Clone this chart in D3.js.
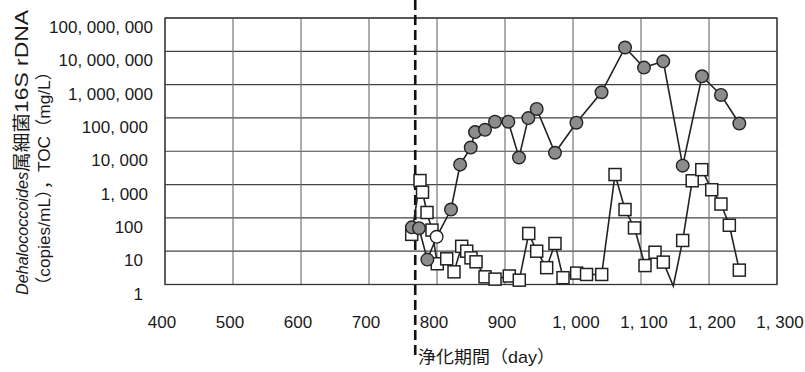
<!DOCTYPE html>
<html><head><meta charset="utf-8">
<script src="https://cdn.jsdelivr.net/npm/d3@7/dist/d3.min.js"></script>
<style>
html,body{margin:0;padding:0;background:#fff;}
svg{display:block;}
text{font-family:"Liberation Sans","Noto Sans CJK JP",sans-serif;fill:#1a1a1a;}
</style></head>
<body>
<svg id="chart" width="805" height="372"></svg>
<script>
// ---- data ----
const xTicks = [400, 500, 600, 700, 800, 900, 1000, 1100, 1200, 1300];
const yTicks = [1, 10, 100, 1000, 10000, 100000, 1000000, 10000000, 100000000];
const startDay = 768;

// Dehalococcoides 16S rDNA (copies/mL) - grey circles
const dhcDay = [763, 773.5, 785.8, 799.5, 820.6, 834, 849.6, 855.9, 870.6, 885.3, 904.9, 920.6, 934.3, 946.6, 973.5, 1005, 1042, 1076.5, 1104.4, 1132.8, 1161.3, 1189.7, 1217.6, 1244.6];
const dhcVal = [52, 49, 5.6, 27, 178, 3960, 12900, 37600, 44000, 77000, 77000, 6500, 99000, 186000, 9000, 72000, 590000, 13000000, 3240000, 5000000, 3700, 1780000, 490000, 68000];
const dhcOpen = [false, false, false, true, false, false, false, false, false, false, false, false, false, false, false, false, false, false, false, false, false, false, false, false];

// TOC (mg/L) - open squares
const tocDay = [762.8, 775, 778.7, 785.3, 792.6, 800.4, 814.3, 825, 836.3, 843.7, 850, 857.4, 870.6, 885.3, 906.3, 921, 934.9, 946.6, 961.3, 973.5, 985.3, 1005.4, 1019.9, 1042.2, 1061.8, 1076.5, 1090.4, 1105.9, 1120.6, 1132.8, 1147.5, 1161.3, 1175.3, 1189.4, 1204, 1217.6, 1229.9, 1244.6];
const tocVal = [32, 1320, 590, 145, 43, 4.2, 5.9, 2.4, 14, 10, 6.3, 4.8, 1.7, 1.45, 1.8, 1.35, 34, 10, 3.2, 17, 1.6, 2.2, 2.0, 2.0, 2000, 178, 50, 3.7, 9.3, 4.7, 0.9, 21, 1300, 2800, 700, 260, 60, 2.7];

// ---- layout ----
const svg = d3.select("#chart");
const L = 165, R = 777, T = 18, B = 284.5;
const x = d3.scaleLinear().domain([400, 1300]).range([L, R]);
const y = d3.scaleLog().domain([1, 1e8]).range([B, T]);

const fmt = v => d3.format(",")(v).replace(/,/g, ", ");

// grid
const g = svg.append("g");
g.selectAll("line.h").data(yTicks).join("line")
  .attr("x1", L).attr("x2", R).attr("y1", d => y(d)).attr("y2", d => y(d))
  .attr("stroke", "#444").attr("stroke-width", 1.2);
g.selectAll("line.v").data(xTicks).join("line")
  .attr("y1", T).attr("y2", B).attr("x1", d => x(d)).attr("x2", d => x(d))
  .attr("stroke", "#777").attr("stroke-width", 1.2);
g.append("rect").attr("x", L).attr("y", T).attr("width", R - L).attr("height", B - T)
  .attr("fill", "none").attr("stroke", "#333").attr("stroke-width", 1.3);

// y tick labels
svg.append("g").selectAll("text").data(yTicks).join("text")
  .attr("x", d => 143 + 5 * (fmt(d).split(",").length - 1))
  .attr("y", d => y(d) + 15)
  .attr("text-anchor", "end").attr("font-size", 17)
  .text(d => fmt(d));

// x tick labels
svg.append("g").selectAll("text").data(xTicks).join("text")
  .attr("x", d => x(d) + (d >= 1000 ? 3 : -3))
  .attr("y", 328)
  .attr("text-anchor", "middle").attr("font-size", 17)
  .text(d => fmt(d));

// x title
svg.append("text").attr("x", 418).attr("y", 363).attr("font-size", 17)
  .attr("textLength", 137).attr("lengthAdjust", "spacingAndGlyphs")
  .text("浄化期間（day）");

// y title (rotated)
const yt = [
  {t: "Dehalococcoides", x: 28, y0: 295, len: 123, italic: true, fs: 17},
  {t: "属細菌", x: 28, y0: 172, len: 59, italic: false, fs: 18},
  {t: "16S rDNA", x: 28, y0: 113, len: 103, italic: false, fs: 18},
  {t: "（copies/mL），TOC（mg/L）", x: 50, y0: 294, len: 231, italic: false, fs: 17}
];
svg.append("g").selectAll("text").data(yt).join("text")
  .attr("transform", d => `translate(${d.x},${d.y0}) rotate(-90)`)
  .attr("font-size", d => d.fs)
  .attr("font-style", d => d.italic ? "italic" : "normal")
  .attr("textLength", d => d.len).attr("lengthAdjust", "spacingAndGlyphs")
  .text(d => d.t);

// start dashed line
svg.append("line").attr("x1", x(startDay)).attr("x2", x(startDay))
  .attr("y1", 0).attr("y2", 355)
  .attr("stroke", "#111").attr("stroke-width", 2.6).attr("stroke-dasharray", "10,5");

// TOC series
const line = d3.line().x(d => x(d[0])).y(d => y(d[1]));
const toc = tocDay.map((d, i) => [d, tocVal[i]]);
svg.append("path").datum(toc).attr("d", line)
  .attr("fill", "none").attr("stroke", "#222").attr("stroke-width", 1.6);
svg.append("g").selectAll("rect").data(toc.filter(d => d[1] >= 1)).join("rect")
  .attr("x", d => x(d[0]) - 6).attr("y", d => y(d[1]) - 6)
  .attr("width", 12).attr("height", 12)
  .attr("fill", "#fff").attr("stroke", "#222").attr("stroke-width", 1.5);

// Dehalococcoides series
const dhc = dhcDay.map((d, i) => [d, dhcVal[i], dhcOpen[i]]);
svg.append("path").datum(dhc).attr("d", line)
  .attr("fill", "none").attr("stroke", "#222").attr("stroke-width", 1.6);
svg.append("g").selectAll("circle").data(dhc).join("circle")
  .attr("cx", d => x(d[0])).attr("cy", d => y(d[1])).attr("r", 6.3)
  .attr("fill", d => d[2] ? "#fff" : "#8c8c8c")
  .attr("stroke", "#222").attr("stroke-width", 1.4);
</script>
</body></html>
